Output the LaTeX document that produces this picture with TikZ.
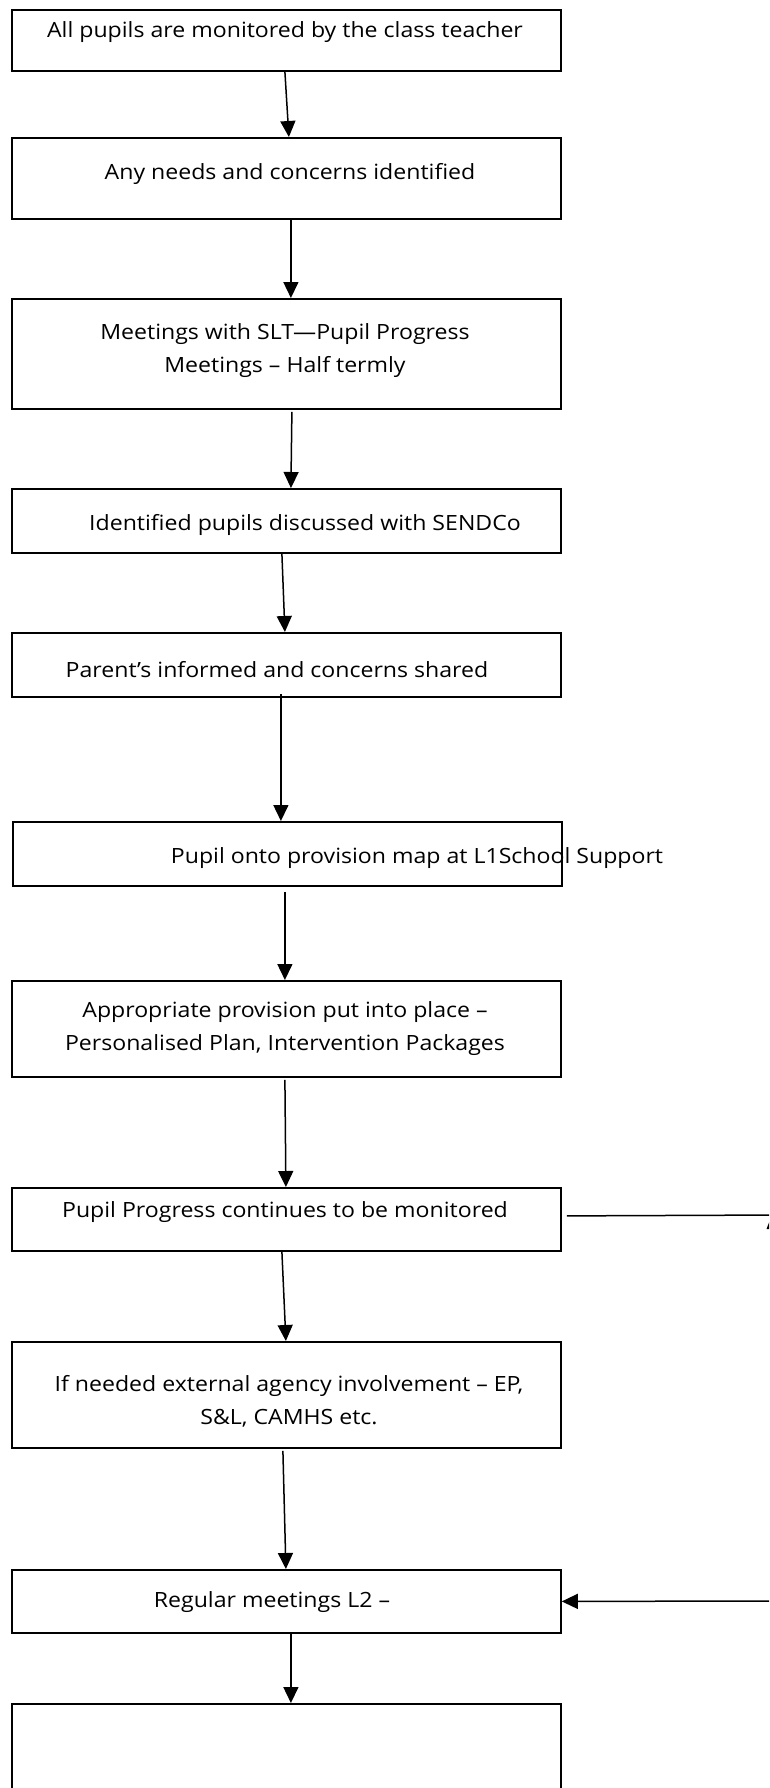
\documentclass[tikz,border=0pt]{standalone}
\usepackage{fontspec}
\setmainfont[FakeStretch=1.1]{Open Sans}
\usetikzlibrary{arrows.meta}
\begin{document}
\begin{tikzpicture}[x=1pt,y=-1pt,
  box/.style={draw,line width=1.8pt,minimum width=549pt,inner sep=0pt,anchor=north west},
  txt/.style={font=\fontsize{21}{33}\selectfont,align=center,inner sep=0pt},
  arr/.style={line width=1.5pt,-{Triangle[length=16pt,width=15pt]}},
  conn/.style={line width=1.5pt}]
\useasboundingbox (0,0) rectangle (769,1788);
\clip (0,0) rectangle (769,1788);
\fill[white] (0,0) rectangle (769,1788);
% boxes
\node[box,minimum height=61pt]  (b1)  at (11,9) {};
\node[box,minimum height=81pt]  (b2)  at (11,137) {};
\node[box,minimum height=110pt] (b3)  at (11,298) {};
\node[box,minimum height=64pt]  (b4)  at (11,488) {};
\node[box,minimum height=64pt]  (b5)  at (11,632) {};
\node[box,minimum height=64pt]  (b6)  at (12,821) {};
\node[box,minimum height=96pt]  (b7)  at (11,980) {};
\node[box,minimum height=63pt]  (b8)  at (11,1187) {};
\node[box,minimum height=106pt] (b9)  at (11,1341) {};
\node[box,minimum height=63pt]  (b10) at (11,1569) {};
\node[box,minimum height=120pt] (b11) at (11,1703) {};
% texts
\node[txt] (t1)  at (285,32)   {All pupils are monitored by the class teacher};
\node[txt] (t2)  at (290,174)  {Any needs and concerns identified};
\node[txt] (t3)  at (285,351)  {Meetings with SLT—Pupil Progress\\Meetings – Half termly};
\node[txt] (t4)  at (305,525)  {Identified pupils discussed with SENDCo};
\node[txt] (t5)  at (277,670)  {Parent’s informed and concerns shared};
\node[txt] (t6)  at (417,858)  {Pupil onto provision map at L1School Support};
\node[txt] (t7)  at (285,1029) {Appropriate provision put into place –\\Personalised Plan, Intervention Packages};
\node[txt] (t8)  at (285,1212) {Pupil Progress continues to be monitored};
\node[txt] (t9)  at (289,1401) {If needed external agency involvement – EP,\\S\&L, CAMHS etc.};
\node[txt] (t10) at (272,1602) {Regular meetings L2 –};
% vertical connectors
\draw[arr] ([xshift=-1.5pt]b1.south) -- ([xshift=2.5pt]b2.north);
\draw[arr] ([xshift=4.5pt]b2.south) -- ([xshift=4.5pt]b3.north);
\draw[arr] ([xshift=5.5pt,yshift=-2pt]b3.south) -- ([xshift=4.5pt]b4.north);
\draw[arr] ([xshift=-4.5pt]b4.south) -- ([xshift=-1.5pt]b5.north);
\draw[arr] ([xshift=-5.5pt,yshift=4pt]b5.south) -- ([xshift=-6.5pt]b6.north);
\draw[arr] ([xshift=-2.5pt,yshift=-5pt]b6.south) -- ([xshift=-1.5pt]b7.north);
\draw[arr] ([xshift=-1.5pt,yshift=-2pt]b7.south) -- ([xshift=-0.5pt]b8.north);
\draw[arr] ([xshift=-4.5pt]b8.south) -- ([xshift=-0.5pt]b9.north);
\draw[arr] ([xshift=-3.5pt,yshift=-2pt]b9.south) -- ([xshift=-0.5pt]b10.north);
\draw[arr] ([xshift=4.5pt]b10.south) -- ([xshift=4.5pt]b11.north);
% side connectors
\coordinate (r1) at (780,1215);
\coordinate (r2) at (780,1601);
\draw[conn] ([shift={(5pt,3.5pt)}]b8.east) -- (r1);
\fill (766.5,1229) -- (770,1220) -- (770,1229) -- cycle;
\draw[arr] (r2) -- (b10.east);
\end{tikzpicture}
\end{document}
